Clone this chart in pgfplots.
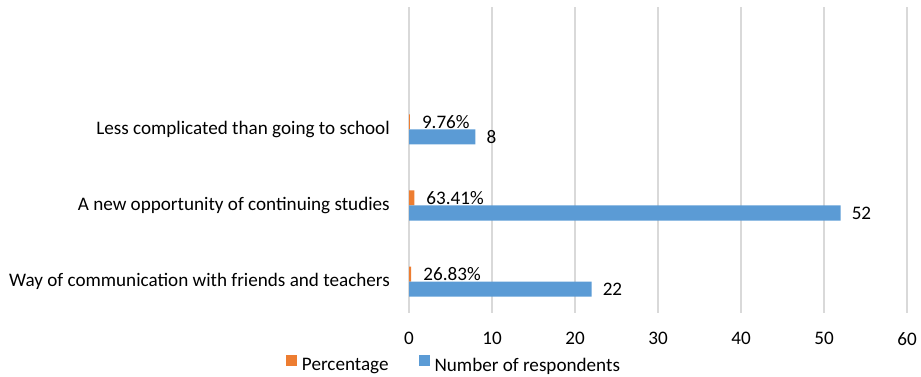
\documentclass[border=0pt]{standalone}
\usepackage{pgfplots}
\pgfplotsset{compat=1.18}
\usepackage{fontspec}
\setmainfont{Carlito}
\definecolor{cOrange}{HTML}{ED7D31}
\definecolor{cBlue}{HTML}{5B9BD5}
\definecolor{cGrid}{HTML}{D9D9D9}
\newcommand{\cf}{\fontsize{19.2}{23}\selectfont}
\begin{document}
\cf
\begin{tikzpicture}
\useasboundingbox (0,0) rectangle (921bp,377bp);
\begin{axis}[
  at={(409bp,64.3bp)}, anchor=south west,
  scale only axis, width=498bp, height=306bp,
  xbar, xmin=0, xmax=60, ymin=-0.407, ymax=3.609,
  bar width=0.197,
  xtick={0,10,...,60}, ytick={0,1,2},
  yticklabels={Way of communication with friends and teachers, A new opportunity of continuing studies, Less complicated than going to school},
  /pgf/number format/assume math mode=true,
  major tick length=0pt,
  axis line style={draw=none},
  xmajorgrids, grid style={cGrid, line width=1.2bp},
  ticklabel style={font=\cf},
  yticklabel style={anchor=east, inner xsep=0pt, xshift=-19bp},
  xticklabel style={anchor=north, inner ysep=0pt, yshift=-19.3bp},
  nodes near coords,
  nodes near coords align={horizontal},
  every node near coord/.append style={anchor=west, inner xsep=0pt, font=\cf, black},
  legend columns=2,
  legend style={draw=none, fill=none, at={(-0.247,-0.170)}, anchor=west,
    inner sep=0pt, outer sep=0pt, nodes={inner sep=0pt},
    font=\cf,
    /tikz/every odd column/.append style={column sep=5bp},
    /tikz/every even column/.append style={column sep=30bp}},
]
\addplot[fill=cOrange, draw=none, bar shift=0.0985, point meta=explicit symbolic,
  every node near coord/.append style={xshift=12bp},
  legend image code/.code={\fill[cOrange] (0bp,0bp) rectangle (11bp,11bp);}]
  coordinates {(0.2683,0) [26.83\%] (0.6341,1) [63.41\%] (0.0976,2) [9.76\%]};
\addplot[fill=cBlue, draw=none, bar shift=-0.0985, point meta=explicit symbolic,
  every node near coord/.append style={xshift=11bp},
  legend image code/.code={\fill[cBlue] (0bp,0bp) rectangle (11bp,11bp);}]
  coordinates {(22,0) [22] (52,1) [52] (8,2) [8]};
\legend{Percentage, Number of respondents}
\end{axis}
\end{tikzpicture}
\end{document}
